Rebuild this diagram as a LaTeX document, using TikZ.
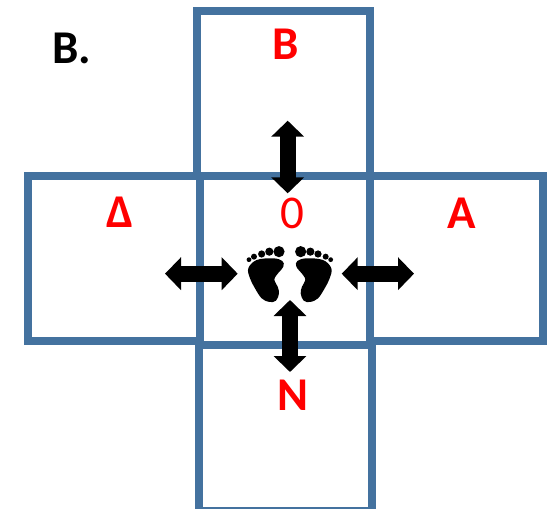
\documentclass[tikz,border=0pt]{standalone}
\usepackage{fontspec}
\setmainfont{Carlito}
\usetikzlibrary{arrows.meta}
\definecolor{boxblue}{HTML}{44729F}
\tikzset{
  cell/.style={draw=boxblue,line width=7.8pt},
  dblarrow/.style={draw=black,line width=16pt,{Triangle[length=16pt,width=32pt]}-{Triangle[length=16pt,width=32pt]},shorten <=0pt,shorten >=0pt},
  redlabel/.style={text=red,font=\fontsize{47}{47}\selectfont\bfseries,anchor=base,inner sep=0pt},
  zerolabel/.style={text=red,font=\fontsize{47}{47}\selectfont,anchor=base,inner sep=0pt},
  toe/.style={fill=black,draw=none},
}
\begin{document}
\begin{tikzpicture}[x=1pt,y=-1pt]
\path[use as bounding box,clip] (0,0) rectangle (547,509);
\fill[white] (0,0) rectangle (547,509);
\draw[cell] (28,176) rectangle (200,341);
\draw[cell] (370,176) rectangle (543,341);
\draw[cell] (197,11) rectangle (370,176);
\draw[cell] (199,345) rectangle (372,511);
\draw[cell] (200,176) rectangle (370,345);
% labels
\node[anchor=base west,inner sep=0pt,font=\fontsize{47}{47}\selectfont\bfseries] (title) at (52,63) {B.};
\node[redlabel] (lb) at (285.7,59.5) {B};
\node[redlabel] (ld) at (120,227) {Δ};
\node[zerolabel] (l0) at (292,228) {0};
\node[redlabel] (la) at (461.7,228) {A};
\node[redlabel] (ln) at (292.7,410) {N};
% arrows
\coordinate (t1) at (287.7,120.7);
\coordinate (t2) at (287.7,193.3);
\coordinate (b1) at (290,300);
\coordinate (b2) at (290,372);
\coordinate (w1) at (165,273.7);
\coordinate (w2) at (237.7,273.7);
\coordinate (e1) at (341.7,273.7);
\coordinate (e2) at (414,273.7);
\draw[dblarrow] (t1) -- (t2);
\draw[dblarrow] (w1) -- (w2);
\draw[dblarrow] (e1) -- (e2);
% feet
\foreach \m/\o in {1/150,-1/429.67}{
\begin{scope}[shift={(\o,170)},x=\m*0.3333pt,y=-0.3333pt]
\fill[toe] (387,245) circle[radius=5.6pt];
\fill[toe] (358,245) circle[radius=4.1pt];
\fill[toe] (335,252) circle[radius=3.6pt];
\fill[toe] (312,260) circle[radius=3pt];
\fill[toe] (297,269) circle[radius=2.4pt];
\fill[toe] plot[smooth cycle,tension=0.6] coordinates {(295,295) (300,325) (315,355) (335,385) (358,396) (378,392) (387,370) (383,350) (373,330) (380,315) (400,290) (397,273) (370,265) (320,270)};
\end{scope}}
\draw[dblarrow] (b1) -- (b2);
\end{tikzpicture}
\end{document}
